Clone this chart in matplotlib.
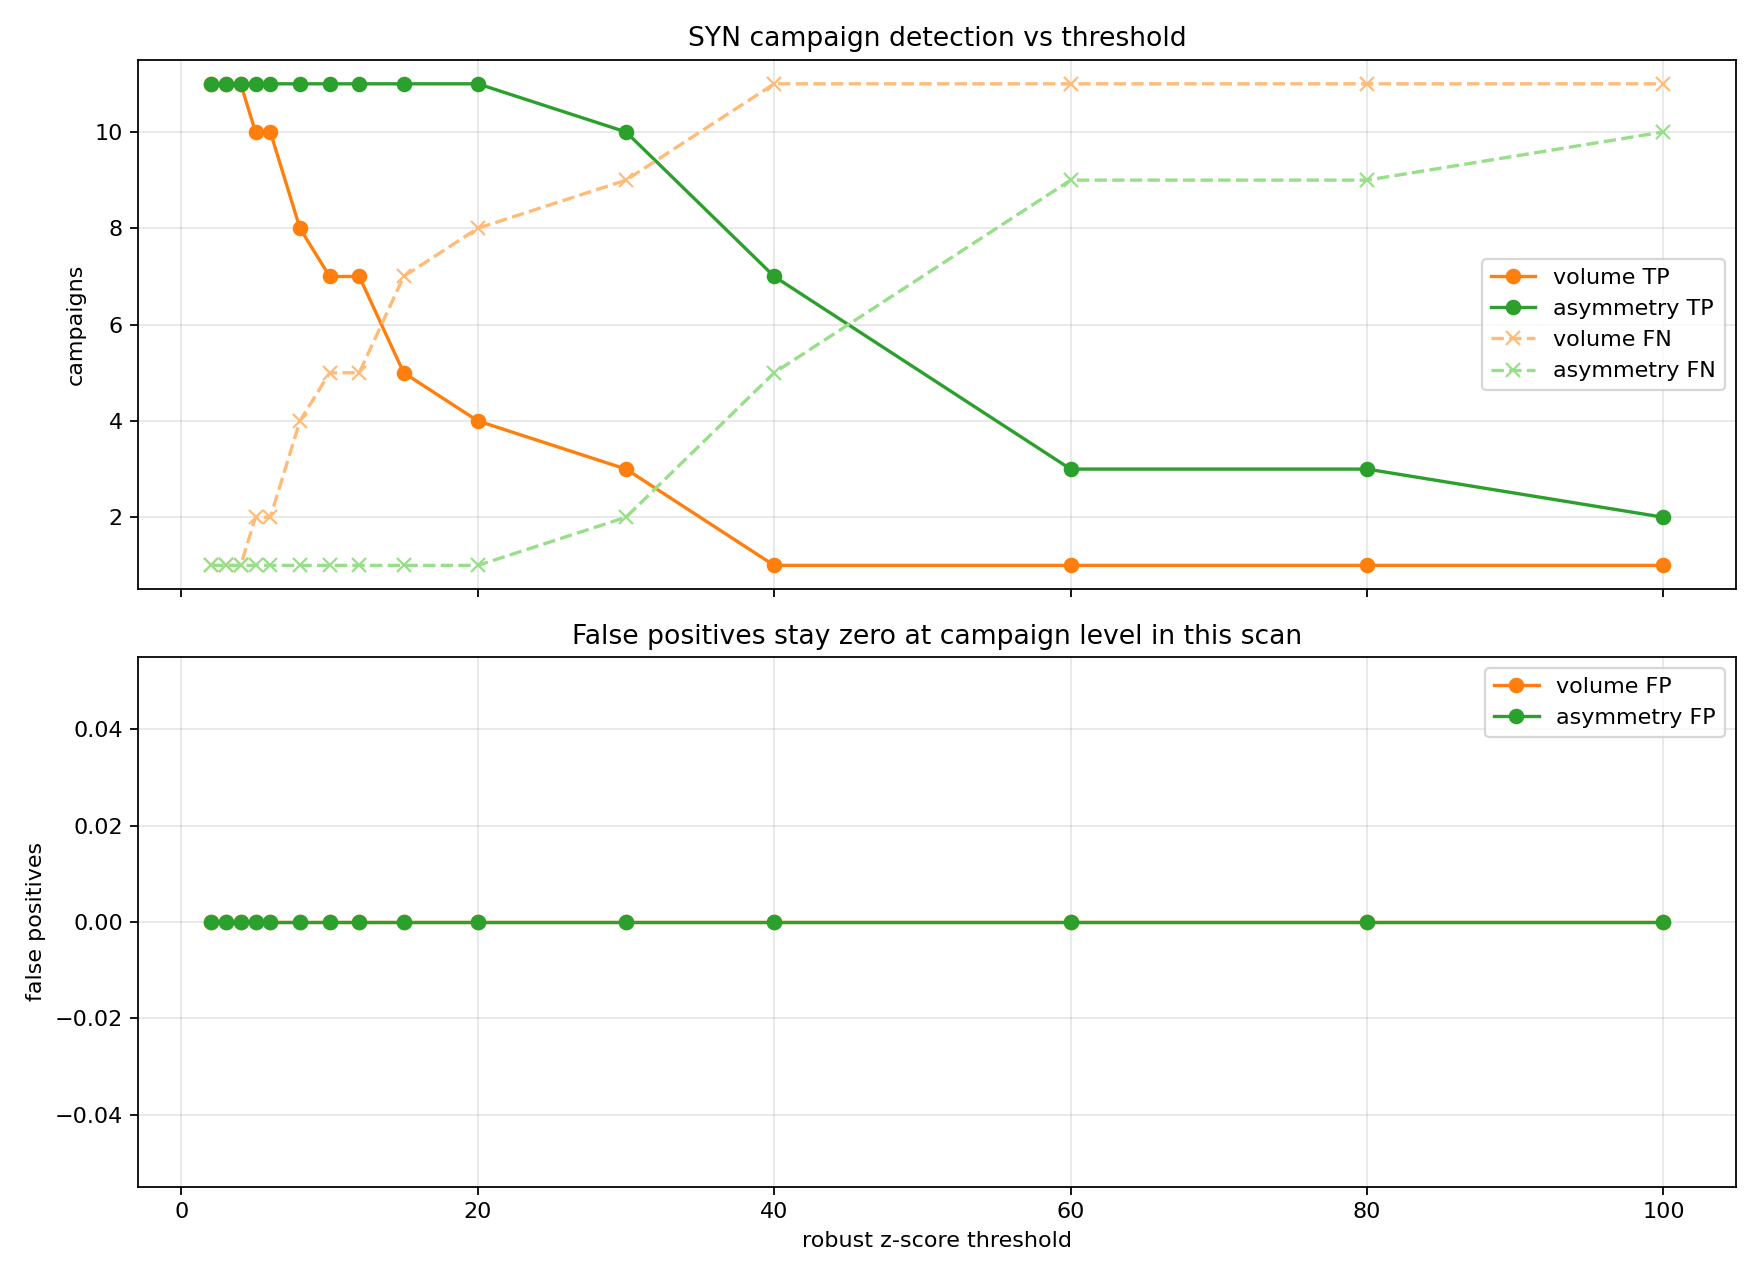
import matplotlib
matplotlib.use("Agg")
import matplotlib.pyplot as plt

# threshold scan results
thresholds = [2, 3, 4, 5, 6, 8, 10, 12, 15, 20, 30, 40, 60, 80, 100]
volume_tp = [11, 11, 11, 10, 10, 8, 7, 7, 5, 4, 3, 1, 1, 1, 1]
asym_tp = [11, 11, 11, 11, 11, 11, 11, 11, 11, 11, 10, 7, 3, 3, 2]
volume_fn = [1, 1, 1, 2, 2, 4, 5, 5, 7, 8, 9, 11, 11, 11, 11]
asym_fn = [1, 1, 1, 1, 1, 1, 1, 1, 1, 1, 2, 5, 9, 9, 10]
volume_fp = [0] * len(thresholds)
asym_fp = [0] * len(thresholds)

fig, (ax1, ax2) = plt.subplots(2, 1, figsize=(11, 8), sharex=True)

ax1.plot(thresholds, volume_tp, marker='o', color='#ff7f0e', label='volume TP')
ax1.plot(thresholds, asym_tp, marker='o', color='#2ca02c', label='asymmetry TP')
ax1.plot(thresholds, volume_fn, marker='x', linestyle='--', color='#ffbb78', label='volume FN')
ax1.plot(thresholds, asym_fn, marker='x', linestyle='--', color='#98df8a', label='asymmetry FN')
ax1.set_ylabel('campaigns')
ax1.set_title('SYN campaign detection vs threshold')
ax1.grid(True, alpha=0.3)
ax1.legend(loc='center right')

ax2.plot(thresholds, volume_fp, marker='o', color='#ff7f0e', label='volume FP')
ax2.plot(thresholds, asym_fp, marker='o', color='#2ca02c', label='asymmetry FP')
ax2.set_xlabel('robust z-score threshold')
ax2.set_ylabel('false positives')
ax2.set_title('False positives stay zero at campaign level in this scan')
ax2.grid(True, alpha=0.3)
ax2.legend(loc='upper right')

plt.tight_layout()
plt.savefig('out.png', dpi=160)
